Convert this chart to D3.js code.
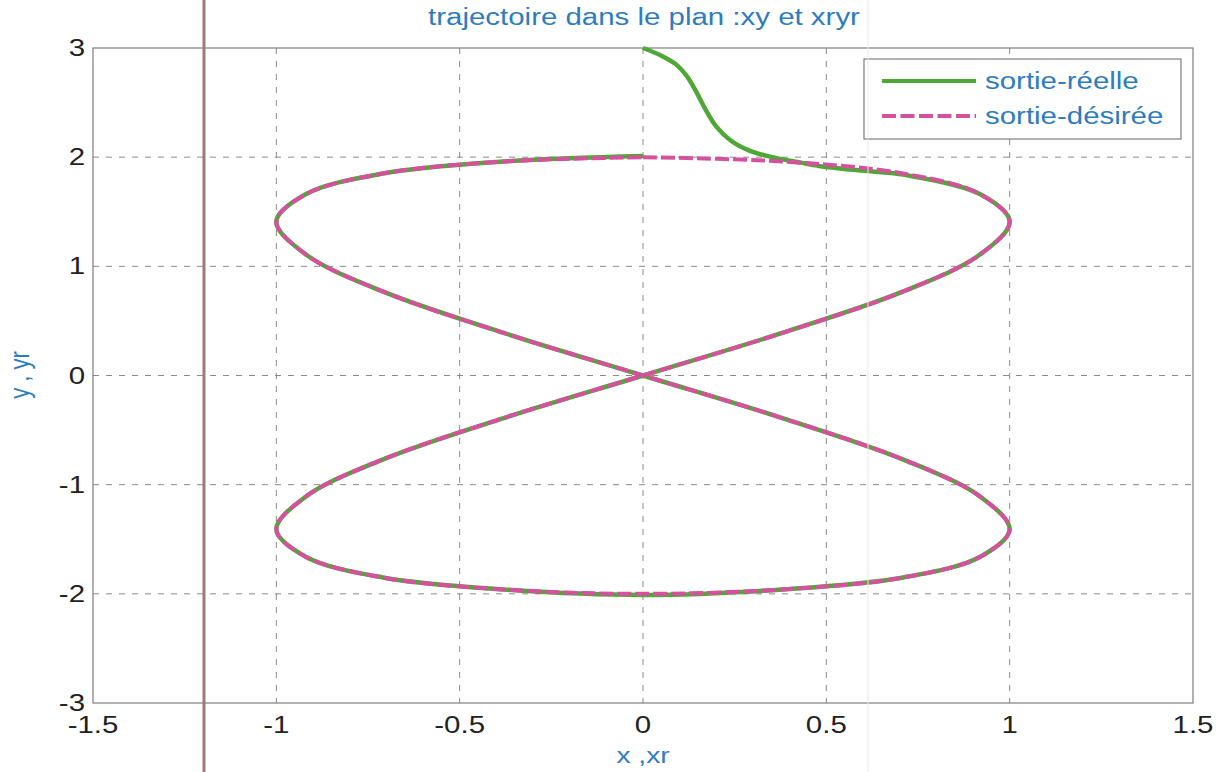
<!DOCTYPE html>
<html lang="fr">
<head>
<meta charset="utf-8">
<title>trajectoire dans le plan :xy et xryr</title>
<script src="https://cdn.jsdelivr.net/npm/d3@7"></script>
<style>
  html, body { margin: 0; padding: 0; background: #fff; }
  text { font-family: "Liberation Sans", Arial, sans-serif; }
</style>
</head>
<body>
<svg id="chart" width="1231" height="772"></svg>
<script>
// ticks
var xTicks = [-1.5, -1, -0.5, 0, 0.5, 1, 1.5];
var yTicks = [-3, -2, -1, 0, 1, 2, 3];
var xTickLabels = ["-1.5", "-1", "-0.5", "0", "0.5", "1", "1.5"];
var yTickLabels = ["-3", "-2", "-1", "0", "1", "2", "3"];

// sortie désirée
var desiredX = [0, 0.38, 0.71, 0.92, 1, 0.92, 0.71, 0.38, 0, -0.38, -0.71, -0.92, -1, -0.92, -0.71, -0.38, 0,
                0.38, 0.71, 0.92, 1, 0.92, 0.71, 0.38, 0, -0.38, -0.71, -0.92, -1, -0.92, -0.71, -0.38, 0];
var desiredY = [2, 1.96, 1.85, 1.66, 1.41, 1.11, 0.77, 0.39, 0, -0.39, -0.77, -1.11, -1.41, -1.66, -1.85, -1.96, -2,
                -1.96, -1.85, -1.66, -1.41, -1.11, -0.77, -0.39, 0, 0.39, 0.77, 1.11, 1.41, 1.66, 1.85, 1.96, 2];

// sortie réelle : transitoire depuis (0,3) puis suit la consigne
var realX = [0, 0.05, 0.09, 0.12, 0.145, 0.17, 0.20, 0.24, 0.29, 0.34, 0.43, 0.50, 0.62, 0.71, 0.92, 1, 0.92, 0.71, 0.38, 0,
             -0.38, -0.71, -0.92, -1, -0.92, -0.71, -0.38, 0, 0.38, 0.71, 0.92, 1, 0.92, 0.71, 0.38, 0,
             -0.38, -0.71, -0.92, -1, -0.92, -0.71, -0.38, 0];
var realY = [3, 2.93, 2.85, 2.74, 2.60, 2.44, 2.28, 2.15, 2.06, 2.01, 1.95, 1.91, 1.87, 1.84, 1.66, 1.41, 1.11, 0.77, 0.39, 0,
             -0.39, -0.77, -1.11, -1.41, -1.66, -1.85, -1.96, -2.01, -1.96, -1.85, -1.66, -1.41, -1.11, -0.77, -0.39, 0,
             0.39, 0.77, 1.11, 1.41, 1.66, 1.85, 1.96, 2.01];

var legendLabels = ["sortie-réelle", "sortie-désirée"];

(function draw() {
  var green = "#4fa835", pink = "#d5519d", blue = "#2e7cc0";
  var stretch = 1.28;

  var svg = d3.select("#chart");
  var pLeft = 93, pRight = 1193, pTop = 48, pBottom = 703;

  var x = d3.scaleLinear().domain([-1.5, 1.5]).range([pLeft, pRight]);
  var y = d3.scaleLinear().domain([-3, 3]).range([pBottom, pTop]);

  // texte étiré horizontalement (la figure scannée est élargie)
  function stext(g, px, py, str, anchor, size, color) {
    return g.append("text")
      .attr("transform", "translate(" + px + "," + py + ") scale(" + stretch + ",1)")
      .attr("text-anchor", anchor)
      .attr("font-size", size)
      .attr("fill", color)
      .text(str);
  }

  // grille
  var grid = svg.append("g");
  grid.selectAll(".gx").data(xTicks.slice(1, -1)).enter().append("line")
    .attr("x1", function(d){ return x(d); }).attr("x2", function(d){ return x(d); })
    .attr("y1", pTop).attr("y2", pBottom)
    .attr("stroke", "#8a8a8a").attr("stroke-width", 1).attr("stroke-dasharray", "6,7");
  grid.selectAll(".gy").data(yTicks.slice(1, -1)).enter().append("line")
    .attr("y1", function(d){ return y(d); }).attr("y2", function(d){ return y(d); })
    .attr("x1", pLeft).attr("x2", pRight)
    .attr("stroke", "#8a8a8a").attr("stroke-width", 1).attr("stroke-dasharray", "6,7");

  // cadre
  svg.append("rect").attr("x", pLeft).attr("y", pTop)
    .attr("width", pRight - pLeft).attr("height", pBottom - pTop)
    .attr("fill", "none").attr("stroke", "#7d7d7d").attr("stroke-width", 1.2);

  // étiquettes des axes
  var lab = svg.append("g");
  xTicks.forEach(function(d, i){
    stext(lab, x(d), 733, xTickLabels[i], "middle", "23px", "#222");
  });
  yTicks.forEach(function(d, i){
    stext(lab, 85, y(d) + 8, yTickLabels[i], "end", "23px", "#222");
  });

  // courbes
  var line = d3.line()
    .x(function(d){ return x(d[0]); })
    .y(function(d){ return y(d[1]); })
    .curve(d3.curveCatmullRom.alpha(0.5));

  var realPts = d3.zip(realX, realY);
  var desPts = d3.zip(desiredX, desiredY);

  svg.append("path").datum(realPts).attr("d", line)
    .attr("fill", "none").attr("stroke", green).attr("stroke-width", 4.5)
    .attr("stroke-linejoin", "round");
  svg.append("path").datum(desPts).attr("d", line)
    .attr("fill", "none").attr("stroke", pink).attr("stroke-width", 4)
    .attr("stroke-dasharray", "14,4");

  // légende
  var leg = svg.append("g");
  leg.append("rect").attr("x", 864).attr("y", 59).attr("width", 317).attr("height", 80)
    .attr("fill", "#fff").attr("stroke", "#7d7d7d").attr("stroke-width", 1.2);
  var legColors = [green, pink];
  legendLabels.forEach(function(t, i){
    var ly = 81 + i * 35;
    leg.append("line").attr("x1", 882).attr("x2", 976).attr("y1", ly).attr("y2", ly)
      .attr("stroke", legColors[i]).attr("stroke-width", 4)
      .attr("stroke-dasharray", i === 1 ? "14,4.5" : null);
    stext(leg, 985, ly + 8, t, "start", "23px", blue);
  });

  // titres
  stext(svg, 644, 25, "trajectoire dans le plan :xy et xryr", "middle", "23px", blue);
  stext(svg, 643, 763, "x ,xr", "middle", "22px", blue);
  svg.append("text")
    .attr("transform", "translate(29,375) rotate(-90) scale(1,1.25)")
    .attr("text-anchor", "middle").attr("font-size", "22px").attr("fill", blue)
    .text("y , yr");

  // trait vertical du scan
  svg.append("line").attr("x1", 204).attr("x2", 204).attr("y1", 0).attr("y2", 772)
    .attr("stroke", "#9d7b79").attr("stroke-width", 3);
  svg.append("line").attr("x1", 868).attr("x2", 868).attr("y1", 0).attr("y2", 772)
    .attr("stroke", "#f1e6e6").attr("stroke-width", 1);
})();
</script>
</body>
</html>
